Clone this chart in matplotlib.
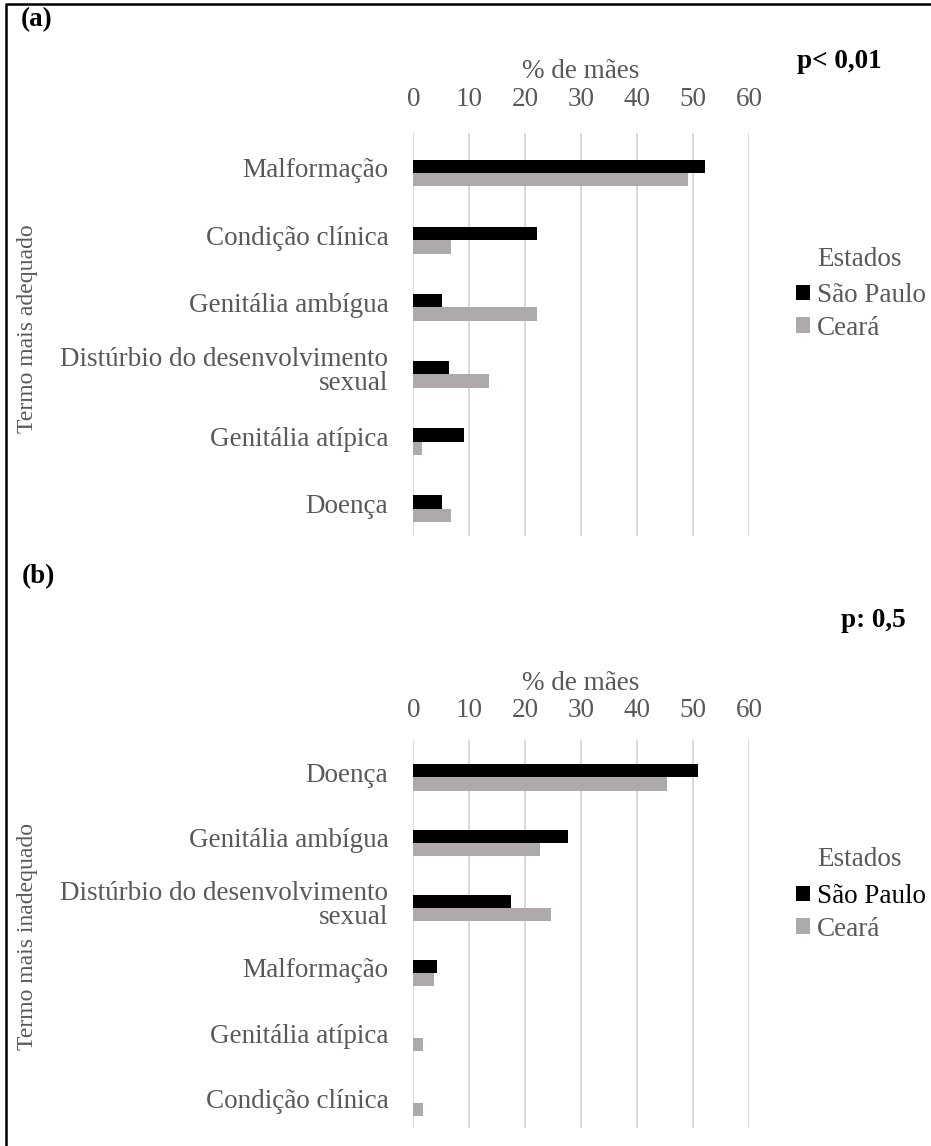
import numpy as np
import matplotlib
matplotlib.use("Agg")
import matplotlib.pyplot as plt
from matplotlib.lines import Line2D

plt.rcParams['font.family'] = ['Liberation Serif', 'DejaVu Serif']

# panel (a): termo mais adequado
cats_a = ["Malformação", "Condição clínica", "Genitália ambígua",
          "Distúrbio do desenvolvimento\nsexual", "Genitália atípica", "Doença"]
sp_a = [52.0, 22.0, 5.1, 6.3, 9.1, 5.1]
ce_a = [49.1, 6.7, 22.0, 13.5, 1.6, 6.7]

# panel (b): termo mais inadequado
cats_b = ["Doença", "Genitália ambígua", "Distúrbio do desenvolvimento\nsexual",
          "Malformação", "Genitália atípica", "Condição clínica"]
sp_b = [50.8, 27.6, 17.4, 4.3, 0.0, 0.0]
ce_b = [45.3, 22.6, 24.6, 3.7, 1.8, 1.8]

xticks = [0, 10, 20, 30, 40, 50, 60]

W, H = 931, 1146
GRAY_TXT = "#595959"
C_SP = "black"
C_CE = "#AEAAAA"
FS = 19.5


def fx(px):
    return px / W


def fy(py):
    return 1 - py / H


fig = plt.figure(figsize=(W / 100, H / 100), dpi=100)


def panel(top, bottom, cats, sp, ce, ylim, tickpad, ylabel, ylab_y, xlab_y, leg_y, sp_black):
    ax = fig.add_axes([fx(413.3), fy(bottom), fx(336), (bottom - top) / H])
    y = np.arange(len(cats))
    h = 0.2
    b1 = ax.barh(y - h / 2, sp, height=h, color=C_SP, label="São Paulo", zorder=3)
    b2 = ax.barh(y + h / 2, ce, height=h, color=C_CE, label="Ceará", zorder=3)
    ax.set_xlim(0, 60)
    ax.set_ylim(*ylim)
    ax.set_xticks(xticks)
    ax.xaxis.tick_top()
    # labels sit a little above the bar pair centre, as in the original
    ax.set_yticks(y - 0.075)
    ax.set_yticklabels(cats, linespacing=0.95)
    ax.tick_params(axis='x', length=0, pad=tickpad, labelsize=FS, labelcolor=GRAY_TXT)
    ax.tick_params(axis='y', length=0, pad=18, labelsize=FS, labelcolor=GRAY_TXT)
    for s in ax.spines.values():
        s.set_visible(False)
    ax.grid(axis='x', color="#D9D9D9", lw=1.4, zorder=0)
    ax.grid(axis='y', visible=False)
    fig.text(fx(581), fy(xlab_y), "% de mães", ha='center', va='center',
             fontsize=FS, color=GRAY_TXT)
    fig.text(fx(28), fy(ylab_y), ylabel, rotation=90, ha='center', va='center',
             fontsize=17, color=GRAY_TXT)
    fig.text(fx(860), fy(leg_y), "Estados", ha='center', va='center',
             fontsize=FS, color=GRAY_TXT)
    leg = ax.legend(handles=[b1, b2], loc='upper left',
                    bbox_to_anchor=(fx(796), fy(leg_y + 24)), bbox_transform=fig.transFigure,
                    frameon=False, fontsize=FS,
                    handlelength=0.52, handleheight=0.52, handletextpad=0.25,
                    labelspacing=0.28, borderpad=0, borderaxespad=0)
    for i, t in enumerate(leg.get_texts()):
        t.set_color("black" if (sp_black and i == 0) else GRAY_TXT)
    return ax


panel(133, 536, cats_a, sp_a, ce_a, (5.406, -0.595), 15,
      "Termo mais adequado", 329, 71, 259, False)
panel(740, 1128, cats_b, sp_b, ce_b, (5.384, -0.576), 12,
      "Termo mais inadequado", 937, 683, 860, True)

fig.text(fx(37), fy(20), "(a)", ha='center', va='center', fontsize=FS, fontweight='bold')
fig.text(fx(38), fy(577), "(b)", ha='center', va='center', fontsize=FS, fontweight='bold')
fig.text(fx(839), fy(62), "p< 0,01", ha='center', va='center', fontsize=FS, fontweight='bold')
fig.text(fx(873), fy(620), "p: 0,5", ha='center', va='center', fontsize=FS, fontweight='bold')

# frame: left and top edges only
fig.add_artist(Line2D([fx(6), fx(6), 1.0], [0.0, fy(4), fy(4)], color='black', lw=1.8,
                      transform=fig.transFigure))

fig.savefig("out.png", dpi=100)
